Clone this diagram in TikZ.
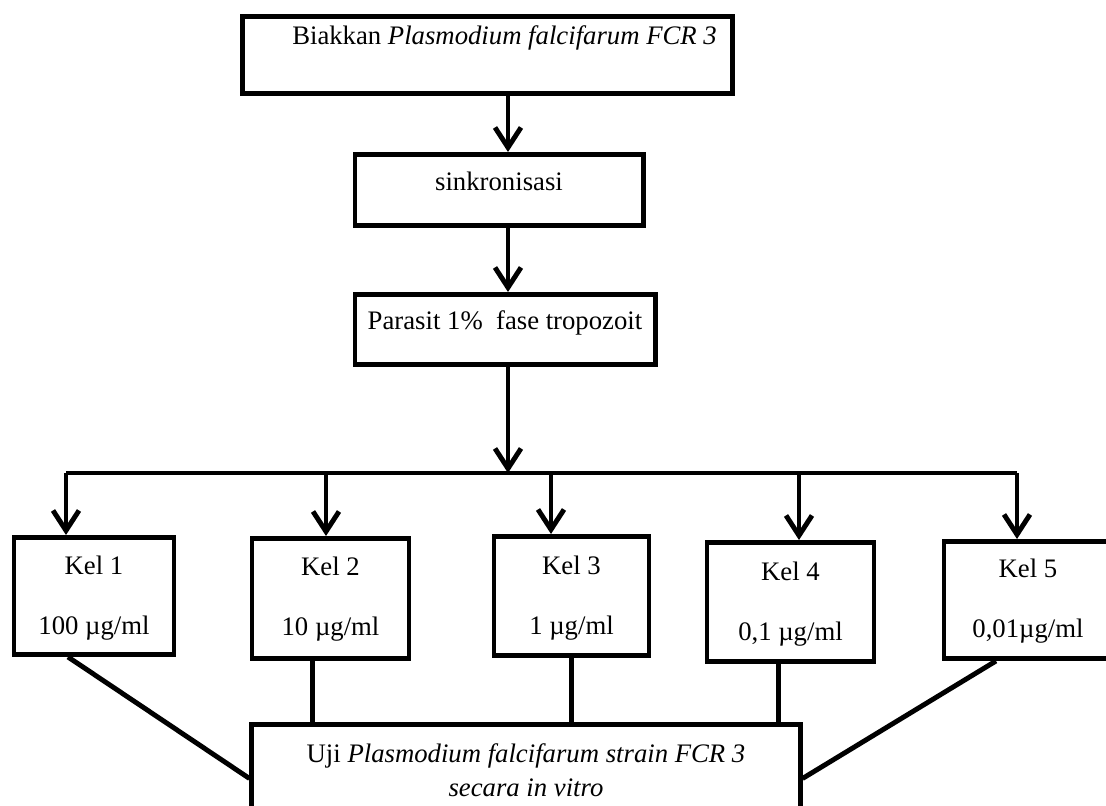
\documentclass[tikz,border=0pt]{standalone}
\usepackage{fontspec}
\setmainfont{Liberation Serif}
\usetikzlibrary{arrows.meta,calc}

\begin{document}
\begin{tikzpicture}[x=0.025cm, y=-0.025cm,
  >={Straight Barb[length=0.5cm, width=0.65cm]}, line width=3.5pt,
  box/.style={draw, line width=3.5pt, anchor=north, inner sep=0pt,
    font=\fontsize{19}{23}\selectfont}]
  \useasboundingbox (0,0) rectangle (1106,805);
  \clip (0,0) rectangle (1106,805);
  % the steps on top, one under the other
  \node[box, minimum width=12.225cm, text height=0.7cm, text depth=1.225cm]
       (biakkan) at (487.5,14)
       {\hspace*{0.85cm}Biakkan \textit{Plasmodium falcifarum FCR 3}};
  \node[box, minimum width=7.2cm, text height=0.9cm, text depth=0.875cm]
       (sinkron) at (499,152) {sinkronisasi};
  \node[box, minimum width=7.5cm, text height=0.875cm, text depth=0.875cm]
       (parasit) at (505,292) {Parasit 1\%\ \ fase tropozoit};
  \coordinate (spine) at (508,0);
  \draw[->] (biakkan.south -| spine) -- (sinkron.north -| spine);
  \draw[->] (sinkron.south -| spine) -- (parasit.north -| spine);
  % the five groups
  \node[box, minimum width=4cm, text height=0.925cm, text depth=2cm]
       (kel1) at (94,535)
       {\begin{tabular}[t]{@{}c@{}}Kel 1\\[20pt]100 µg/ml\end{tabular}};
  \node[box, minimum width=3.925cm, text height=0.925cm, text depth=2.075cm]
       (kel2) at (330.5,536)
       {\begin{tabular}[t]{@{}c@{}}Kel 2\\[20pt]10 µg/ml\end{tabular}};
  \node[box, minimum width=3.875cm, text height=0.95cm, text depth=2.025cm]
       (kel3) at (571.5,534)
       {\begin{tabular}[t]{@{}c@{}}Kel 3\\[20pt]1 µg/ml\end{tabular}};
  \node[box, minimum width=4.175cm, text height=0.95cm, text depth=2.025cm]
       (kel4) at (790.5,540)
       {\begin{tabular}[t]{@{}c@{}}Kel 4\\[20pt]0,1 µg/ml\end{tabular}};
  \node[box, minimum width=4.2cm, text height=0.9cm, text depth=2.025cm]
       (kel5) at (1028,539)
       {\begin{tabular}[t]{@{}c@{}}Kel 5\\[20pt]0,01µg/ml\end{tabular}};
  % the bar that splits into the groups
  \coordinate (barmid) at (508,473);
  \coordinate (b1) at (66,473);
  \coordinate (b2) at (326,473);
  \coordinate (b3) at (551,473);
  \coordinate (b4) at (799,473);
  \coordinate (b5) at (1017,473);
  \draw[->] (parasit.south -| spine) -- (barmid);
  \draw (b1) -- (b5);
  \draw[->] (b1) -- (kel1.north -| b1);
  \draw[->] (b2) -- (kel2.north -| b2);
  \draw[->] (b3) -- (kel3.north -| b3);
  \draw[->] (b4) -- (kel4.north -| b4);
  \draw[->] (b5) -- (kel5.north -| b5);
  % the test, all groups go into it
  \node[box, minimum width=13.7cm, text height=0.95cm, text depth=1.75cm]
       (uji) at (526,722)
       {\begin{tabular}[t]{@{}c@{}}Uji \textit{Plasmodium falcifarum strain FCR 3}\\[1pt]
        \textit{secara in vitro}\end{tabular}};
  \coordinate (c1) at ($(kel1.south)+(-26,0)$);
  \coordinate (c2) at ($(kel2.south)+(-18,0)$);
  \coordinate (c4) at ($(kel4.south)+(-12,0)$);
  \coordinate (c5) at ($(kel5.south)+(-32,0)$);
  \draw (c1) -- (uji.west);
  \draw (c2) -- (c2 |- uji.north);
  \draw (kel3.south) -- (kel3.south |- uji.north);
  \draw (c4) -- (c4 |- uji.north);
  \draw (c5) -- (uji.east);
\end{tikzpicture}
\end{document}
